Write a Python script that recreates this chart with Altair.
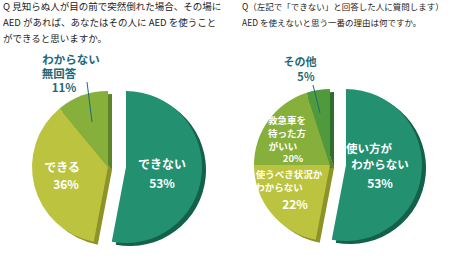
import altair as alt
import pandas as pd

# ---- data ----
q1_categories = ["できない", "できる", "わからない無回答"]
q1_values = [53, 36, 11]
q2_categories = ["使い方がわからない", "使うべき状況かわからない", "救急車を待った方がいい", "その他"]
q2_values = [53, 22, 20, 5]

q1_title = ["Q 見知らぬ人が目の前で突然倒れた場合、その場に",
            "AED があれば、あなたはその人に AED を使うこと",
            "ができると思いますか。"]
q2_title = ["Q（左記で「できない」と回答した人に質問します）",
            "AED を使えないと思う一番の理由は何ですか。"]

# ---- style ----
main_colors = ["#23906f", "#bcc43f", "#86b03b", "#23906f", "#bcc43f", "#86b03b", "#4f9a3c"]
rim_colors = ["#13614a", "#8d9327", "#5c8426", "#13614a", "#8d9327", "#5c8426", "#2f6e2a"]
all_cats = [f"q1_{c}" for c in q1_categories] + [f"q2_{c}" for c in q2_categories]
color_scale = alt.Scale(domain=all_cats + [c + "_rim" for c in all_cats],
                        range=main_colors + rim_colors)
FONT = "Noto Sans CJK JP"
R = 76
RIM = (4, 3)


def pie_df(prefix, cats, vals):
    return pd.DataFrame({"cat": [f"{prefix}_{c}" for c in cats], "value": vals,
                         "order": list(range(len(cats)))})


def pie_layers(df, cx, cy, explode_dx):
    base = alt.Chart(df).transform_window(
        end="sum(value)", sort=[alt.SortField("order")]
    ).transform_calculate(start="datum.end - datum.value")
    theta = alt.Theta("start:Q", scale=alt.Scale(domain=[0, 100], range=[0, 6.283185307]))
    theta2 = alt.Theta2("end:Q")
    layers = []
    for rim in (True, False):
        for exploded in (True, False):
            ch = base.transform_filter(
                "datum.order == 0" if exploded else "datum.order != 0"
            )
            if rim:
                ch = ch.transform_calculate(key="datum.cat + '_rim'")
            else:
                ch = ch.transform_calculate(key="datum.cat")
            x0 = cx + (explode_dx if exploded else 0) + (RIM[0] if rim else 0)
            y0 = cy + (RIM[1] if rim else 0)
            layers.append(ch.mark_arc(outerRadius=R).encode(
                theta=theta, theta2=theta2,
                color=alt.Color("key:N", scale=color_scale, legend=None),
                x=alt.value(x0), y=alt.value(y0),
            ))
    return layers


layers = []
layers += pie_layers(pie_df("q1", q1_categories, q1_values), 108, 167, 18)
layers += pie_layers(pie_df("q2", q2_categories, q2_values), 330, 165, 16)

# titles
title_rows = []
for i, t in enumerate(q1_title):
    title_rows.append({"t": t, "x": 3, "y": 7 + 16 * i, "s": 9.5})
for i, t in enumerate(q2_title):
    title_rows.append({"t": t, "x": 242, "y": 7 + 16 * i, "s": 8.5})
layers.append(alt.Chart(pd.DataFrame(title_rows)).mark_text(
    align="left", baseline="middle", font=FONT, color="#222222"
).encode(x=alt.X("x:Q", scale=None), y=alt.Y("y:Q", scale=None), text="t:N",
         size=alt.Size("s:Q", scale=None)))

# slice labels (annotation layout)
TEAL = "#1d6a7a"
W = "#ffffff"
ann = [
    ("できない", 162, 165, W, 12), ("53%", 162, 184, W, 12),
    ("できる", 62, 168, W, 12), ("36%", 66, 185, W, 12),
    ("わからない", 71, 61, TEAL, 11.5), ("無回答", 59, 75, TEAL, 11.5), ("11%", 64, 89, TEAL, 11.5),
    ("その他", 300, 63, TEAL, 11), ("5％", 306, 78, TEAL, 11),
    ("救急車を", 287, 121, W, 9.5), ("待った方", 287, 134, W, 9.5), ("がいい", 283, 147, W, 9.5),
    ("20%", 293, 159, W, 9.5),
    ("使うべき状況か", 289, 175, W, 9.5), ("わからない", 279, 188, W, 9.5), ("22%", 295, 205, W, 12),
    ("使い方が", 369, 150, W, 11.5), ("わからない", 380, 166, W, 11.5), ("53%", 380, 184, W, 12),
]
ann_df = pd.DataFrame(ann, columns=["t", "x", "y", "c", "s"])
layers.append(alt.Chart(ann_df).mark_text(
    align="center", baseline="middle", font=FONT, fontWeight="bold"
).encode(x=alt.X("x:Q", scale=None), y=alt.Y("y:Q", scale=None), text="t:N",
         color=alt.Color("c:N", scale=None), size=alt.Size("s:Q", scale=None)))

# leader lines
lead = pd.DataFrame({"x": [87, 313], "y": [82, 85], "x2": [92, 320], "y2": [122, 113]})
layers.append(alt.Chart(lead).mark_rule(color=TEAL, strokeWidth=1).encode(
    x=alt.X("x:Q", scale=None), y=alt.Y("y:Q", scale=None),
    x2="x2:Q", y2="y2:Q"))

chart = alt.layer(*layers).properties(
    width=450, height=257, padding=0, autosize=alt.AutoSizeParams(type="none"),
    background="white"
).configure_view(stroke=None)

chart.save("out.html", embed_options={"renderer": "svg", "actions": False})
